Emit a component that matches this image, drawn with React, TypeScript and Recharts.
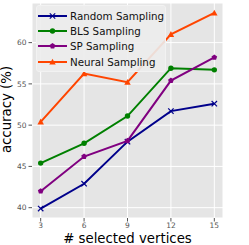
import React from 'react';
import { LineChart, Line, XAxis, YAxis, CartesianGrid, Legend } from 'recharts';

const vertices = [3, 6, 9, 12, 15];
const randomSampling = [39.9, 42.9, 48.0, 51.7, 52.6];
const blsSampling = [45.4, 47.8, 51.1, 56.9, 56.7];
const spSampling = [42.0, 46.2, 48.1, 55.4, 58.2];
const neuralSampling = [50.4, 56.25, 55.2, 61.0, 63.6];
const xTicks = [3, 6, 9, 12, 15];
const yTicks = [40, 45, 50, 55, 60];

const series = [
  { key: 'random', name: 'Random Sampling', color: '#00008B', marker: 'x', values: randomSampling },
  { key: 'bls', name: 'BLS Sampling', color: '#008000', marker: 'o', values: blsSampling },
  { key: 'sp', name: 'SP Sampling', color: '#800080', marker: 'p', values: spSampling },
  { key: 'neural', name: 'Neural Sampling', color: '#FF4500', marker: '^', values: neuralSampling },
];

const data = vertices.map((v, i) => {
  const row: any = { v };
  series.forEach((s) => { row[s.key] = s.values[i]; });
  return row;
});

function Marker({ cx, cy, color, marker }: any) {
  if (cx == null || cy == null) return null;
  const r = 2.7;
  if (marker === 'x') {
    return (
      <g>
        <line x1={cx - r} y1={cy - r} x2={cx + r} y2={cy + r} stroke={color} strokeWidth={1.2} />
        <line x1={cx - r} y1={cy + r} x2={cx + r} y2={cy - r} stroke={color} strokeWidth={1.2} />
      </g>
    );
  }
  if (marker === 'o') return <circle cx={cx} cy={cy} r={r} fill={color} />;
  if (marker === 'p') {
    const pts = [0, 1, 2, 3, 4].map((k) => {
      const a = -Math.PI / 2 + (k * 2 * Math.PI) / 5;
      return `${cx + r * 1.1 * Math.cos(a)},${cy + r * 1.1 * Math.sin(a)}`;
    }).join(' ');
    return <polygon points={pts} fill={color} />;
  }
  const t = r * 1.2;
  return <polygon points={`${cx},${cy - t} ${cx - t},${cy + t * 0.8} ${cx + t},${cy + t * 0.8}`} fill={color} />;
}

const font = "'DejaVu Sans', sans-serif";

function LegendContent() {
  return (
    <div
      style={{
        background: 'rgba(236,236,236,0.9)',
        border: '1px solid #f2f2f2',
        borderRadius: 3,
        padding: '2px 2px 2px 1px',
        fontFamily: font,
        fontSize: 10.3,
        color: '#111',
        width: 130,
        boxSizing: 'border-box',
        whiteSpace: 'nowrap',
      }}
    >
      {series.map((s) => (
        <div key={s.key} style={{ display: 'flex', alignItems: 'center', height: 15.3 }}>
          <svg width={29} height={10} style={{ marginRight: 3, flexShrink: 0 }}>
            <line x1={0} y1={5} x2={29} y2={5} stroke={s.color} strokeWidth={2} />
            <Marker cx={14.5} cy={5} color={s.color} marker={s.marker} />
          </svg>
          <span>{s.name}</span>
        </div>
      ))}
    </div>
  );
}

export default function App() {
  return (
    <div style={{ position: 'absolute', left: 0, top: 0 }}>
      <LineChart width={249} height={245} data={data} margin={{ top: 3, right: 26, left: 0, bottom: 0 }}>
        <CartesianGrid stroke="#ffffff" strokeWidth={1} fill="#E5E5E5" />
        <XAxis
          dataKey="v"
          type="number"
          domain={[2.4, 15.6]}
          ticks={xTicks}
          allowDataOverflow
          axisLine={false}
          tickLine={{ stroke: '#555' }}
          tickSize={3.5}
          tickMargin={1}
          height={27}
          tick={{ fontSize: 7.5, fill: '#555', fontFamily: font }}
          label={{
            content: () => (
              <text x={127.5} y={243} textAnchor="middle" fontSize={13.3} fontFamily={font} fill="#000">
                # selected vertices
              </text>
            ),
          }}
        />
        <YAxis
          type="number"
          domain={[38.75, 64.8]}
          ticks={yTicks}
          allowDataOverflow
          axisLine={false}
          tickLine={{ stroke: '#555' }}
          tickSize={3.5}
          width={32}
          tick={{ fontSize: 7.5, fill: '#555', fontFamily: font }}
          label={{
            content: () => (
              <text
                x={11}
                y={109.5}
                textAnchor="middle"
                fontSize={13.3}
                fontFamily={font}
                fill="#000"
                transform="rotate(-90 11 109.5)"
              >
                accuracy (%)
              </text>
            ),
          }}
        />
        <Legend
          layout="vertical"
          align="center"
          verticalAlign="middle"
          content={<LegendContent />}
          wrapperStyle={{ position: 'absolute', left: 36, top: 5, width: 130, height: 68 }}
        />
        {series.map((s) => (
          <Line
            key={s.key}
            dataKey={s.key}
            name={s.name}
            stroke={s.color}
            strokeWidth={2}
            isAnimationActive={false}
            dot={(p: any) => <Marker key={`${s.key}-${p.index}`} cx={p.cx} cy={p.cy} color={s.color} marker={s.marker} />}
            activeDot={false}
          />
        ))}
      </LineChart>
    </div>
  );
}
